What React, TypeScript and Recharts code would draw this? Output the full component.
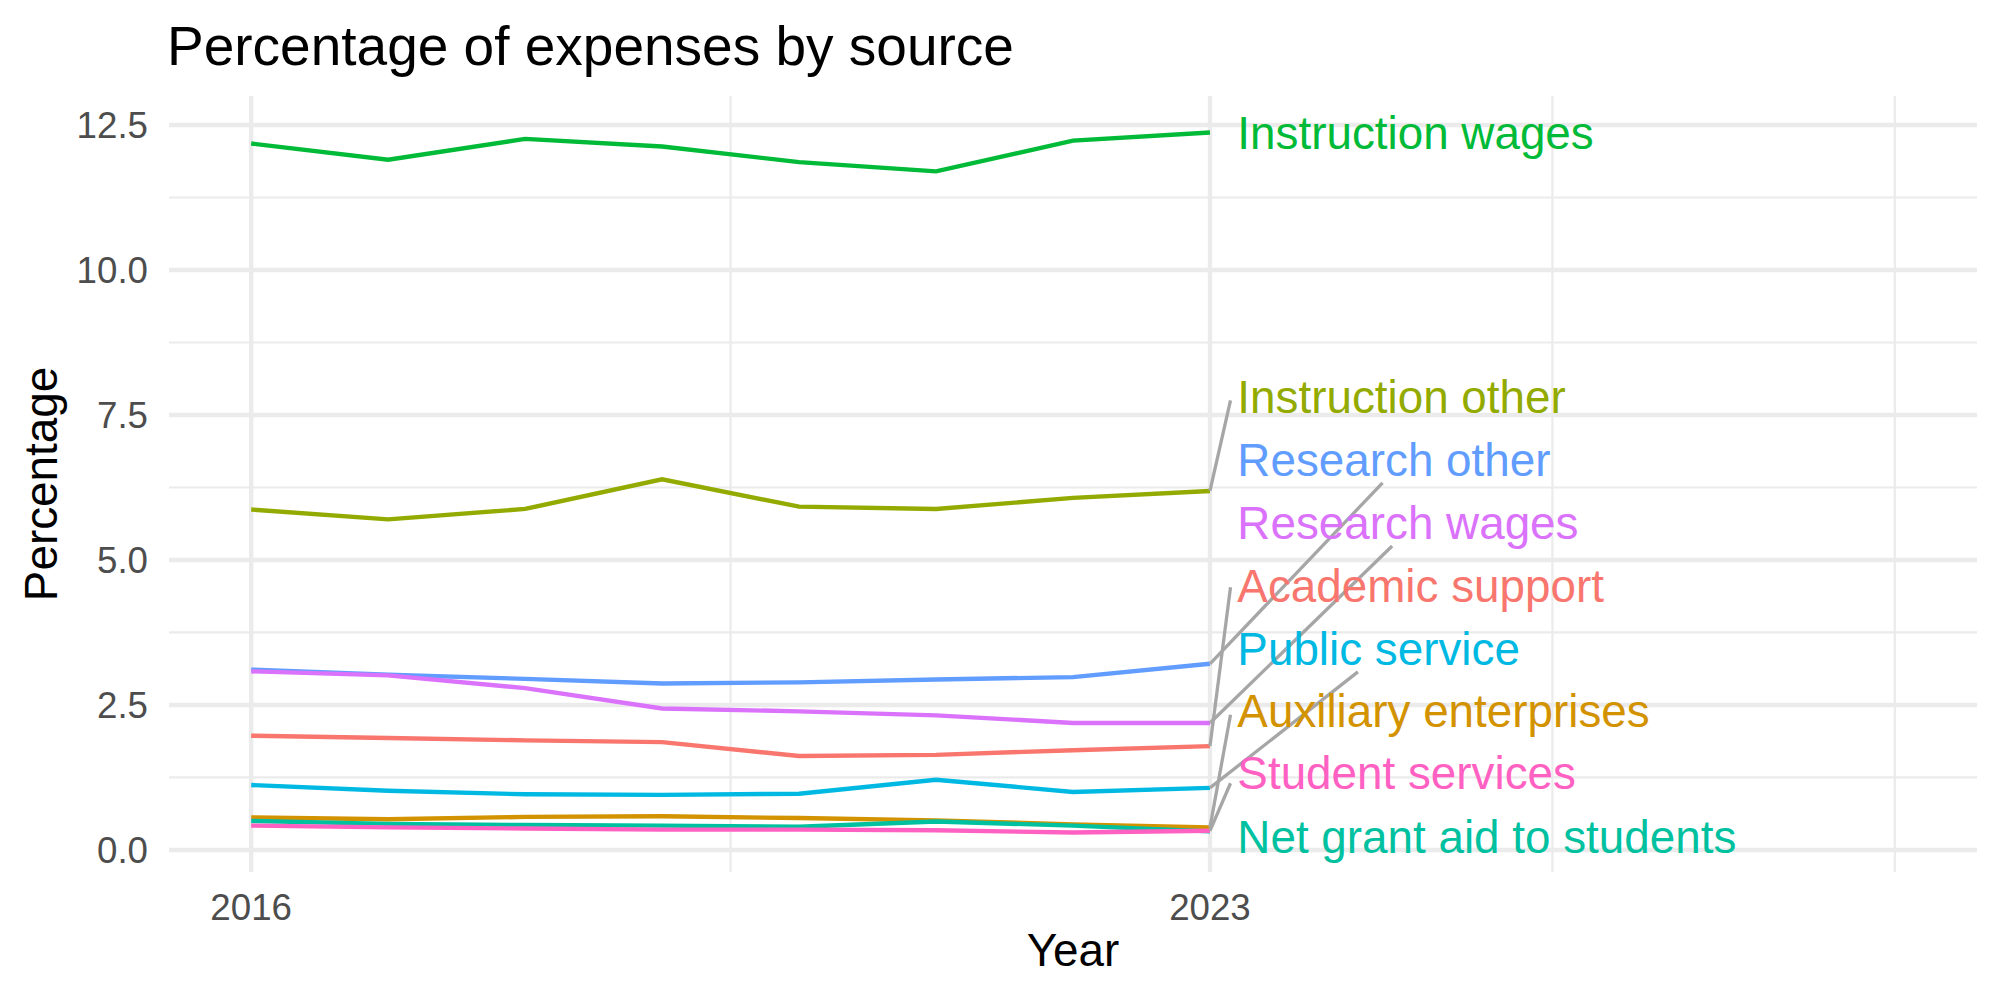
import React from 'react';
import {
  LineChart, Line, XAxis, YAxis, CartesianGrid, ReferenceLine, ReferenceDot
} from 'recharts';

const FONT = '"Liberation Sans", Arial, Helvetica, sans-serif';

// --- data (percent of total expenses, per fiscal year) ---
const years = [2016, 2017, 2018, 2019, 2020, 2021, 2022, 2023];

const academicSupport = [1.97, 1.93, 1.89, 1.86, 1.62, 1.64, 1.72, 1.79];
const auxiliaryEnterprises = [0.56, 0.53, 0.57, 0.58, 0.55, 0.51, 0.44, 0.39];
const instructionOther = [5.87, 5.7, 5.88, 6.39, 5.92, 5.88, 6.07, 6.19];
const instructionWages = [12.18, 11.9, 12.26, 12.13, 11.86, 11.7, 12.23, 12.37];
const netGrantAid = [0.5, 0.45, 0.43, 0.42, 0.4, 0.49, 0.42, 0.32];
const publicService = [1.12, 1.02, 0.96, 0.95, 0.97, 1.21, 1.0, 1.07];
const researchOther = [3.11, 3.02, 2.95, 2.87, 2.89, 2.94, 2.98, 3.21];
const researchWages = [3.08, 3.01, 2.79, 2.44, 2.39, 2.32, 2.19, 2.19];
const studentServices = [0.42, 0.39, 0.37, 0.35, 0.35, 0.34, 0.3, 0.33];

// series in legend (alphabetical) order, ggplot hue colours
const seriesNames = [
  'Academic support', 'Auxiliary enterprises', 'Instruction other', 'Instruction wages',
  'Net grant aid to students', 'Public service', 'Research other', 'Research wages', 'Student services'
];
const seriesColors = [
  '#F8766D', '#D39200', '#93AA00', '#00BA38', '#00C19F', '#00B9E3', '#619CFF', '#DB72FB', '#FF61C3'
];
const seriesValues = [
  academicSupport, auxiliaryEnterprises, instructionOther, instructionWages,
  netGrantAid, publicService, researchOther, researchWages, studentServices
];

// repelled end labels: where each label sits, and where its leader segment stops
const labelX = 2023.2;
const labelY = [4.56, 2.41, 7.82, 12.37, 0.23, 3.48, 6.74, 5.64, 1.33];
const leaderEndX = [2023.15, 2023.15, 2023.15, null, null, 2024.08, 2024.26, 2024.33, 2023.15];
const leaderEndY = [4.53, 2.33, 7.75, null, null, 3.07, 6.33, 5.24, 1.15];

// axis ticks and grid
const xTicks = [2016, 2023];
const xMinor = [2019.5, 2025.5, 2028];
const yTicks = [0, 2.5, 5, 7.5, 10, 12.5];
const yMinor = [1.25, 3.75, 6.25, 8.75, 11.25];

const rows = years.map((year, i) => {
  const row: Record<string, number> = { year };
  seriesNames.forEach((name, s) => { row[name] = seriesValues[s][i]; });
  return row;
});

const GRID = '#EBEBEB';

const endLabel = (text: string, color: string) => (props: any) => {
  const vb = props.viewBox || {};
  const x = (vb.x ?? 0) + (vb.width ?? 0) / 2;
  const y = (vb.y ?? 0) + (vb.height ?? 0) / 2;
  return (
    <text x={x} y={y} dy="0.36em" fill={color} fontSize={45.8} fontFamily={FONT} textAnchor="start">
      {text}
    </text>
  );
};

export default function App() {
  return (
    <div style={{ position: 'absolute', left: 0, top: 0, width: 2000, height: 1000, background: '#fff' }}>
      <LineChart
        width={2000}
        height={1000}
        data={rows}
        margin={{ top: 96, right: 23, left: 0, bottom: 0 }}
      >
        <CartesianGrid
          stroke={GRID}
          strokeWidth={2.2}
          horizontalValues={yMinor}
          verticalValues={xMinor}
        />
        <CartesianGrid
          stroke={GRID}
          strokeWidth={4.4}
          horizontalValues={yTicks}
          verticalValues={xTicks}
        />
        <XAxis
          dataKey="year"
          type="number"
          domain={[2015.4, 2028.6]}
          ticks={xTicks}
          allowDataOverflow
          axisLine={false}
          tickLine={false}
          tickSize={0}
          tickMargin={22}
          height={128}
          tick={{ fontSize: 36.7, fill: '#4D4D4D', fontFamily: FONT }}
        />
        <YAxis
          type="number"
          domain={[-0.38, 13.0]}
          ticks={yTicks}
          allowDataOverflow
          tickFormatter={(v: number) => v.toFixed(1)}
          axisLine={false}
          tickLine={false}
          tickSize={0}
          tickMargin={21}
          width={169}
          tick={{ fontSize: 36.7, fill: '#4D4D4D', fontFamily: FONT }}
        />
        {seriesNames.map((name, s) => (
          <Line
            key={name}
            type="linear"
            dataKey={name}
            stroke={seriesColors[s]}
            strokeWidth={4.4}
            dot={false}
            activeDot={false}
            isAnimationActive={false}
          />
        ))}
        {seriesNames.map((name, s) =>
          leaderEndX[s] == null ? null : (
            <ReferenceLine
              key={`seg-${name}`}
              segment={[
                { x: years[years.length - 1], y: seriesValues[s][years.length - 1] },
                { x: leaderEndX[s] as number, y: leaderEndY[s] as number },
              ]}
              stroke="#A6A6A6"
              strokeWidth={3.3}
              ifOverflow="visible"
            />
          )
        )}
        {seriesNames.map((name, s) => (
          <ReferenceDot
            key={`lab-${name}`}
            x={labelX}
            y={labelY[s]}
            r={0}
            fill="none"
            stroke="none"
            ifOverflow="visible"
            label={endLabel(name, seriesColors[s])}
          />
        ))}
        <text x={167} y={65} fontSize={55} fontFamily={FONT} fill="#000">
          Percentage of expenses by source
        </text>
        <text x={1073} y={966} fontSize={45.8} fontFamily={FONT} fill="#000" textAnchor="middle">
          Year
        </text>
        <text
          x={57}
          y={484}
          fontSize={45.8}
          fontFamily={FONT}
          fill="#000"
          textAnchor="middle"
          transform="rotate(-90 57 484)"
        >
          Percentage
        </text>
      </LineChart>
    </div>
  );
}
